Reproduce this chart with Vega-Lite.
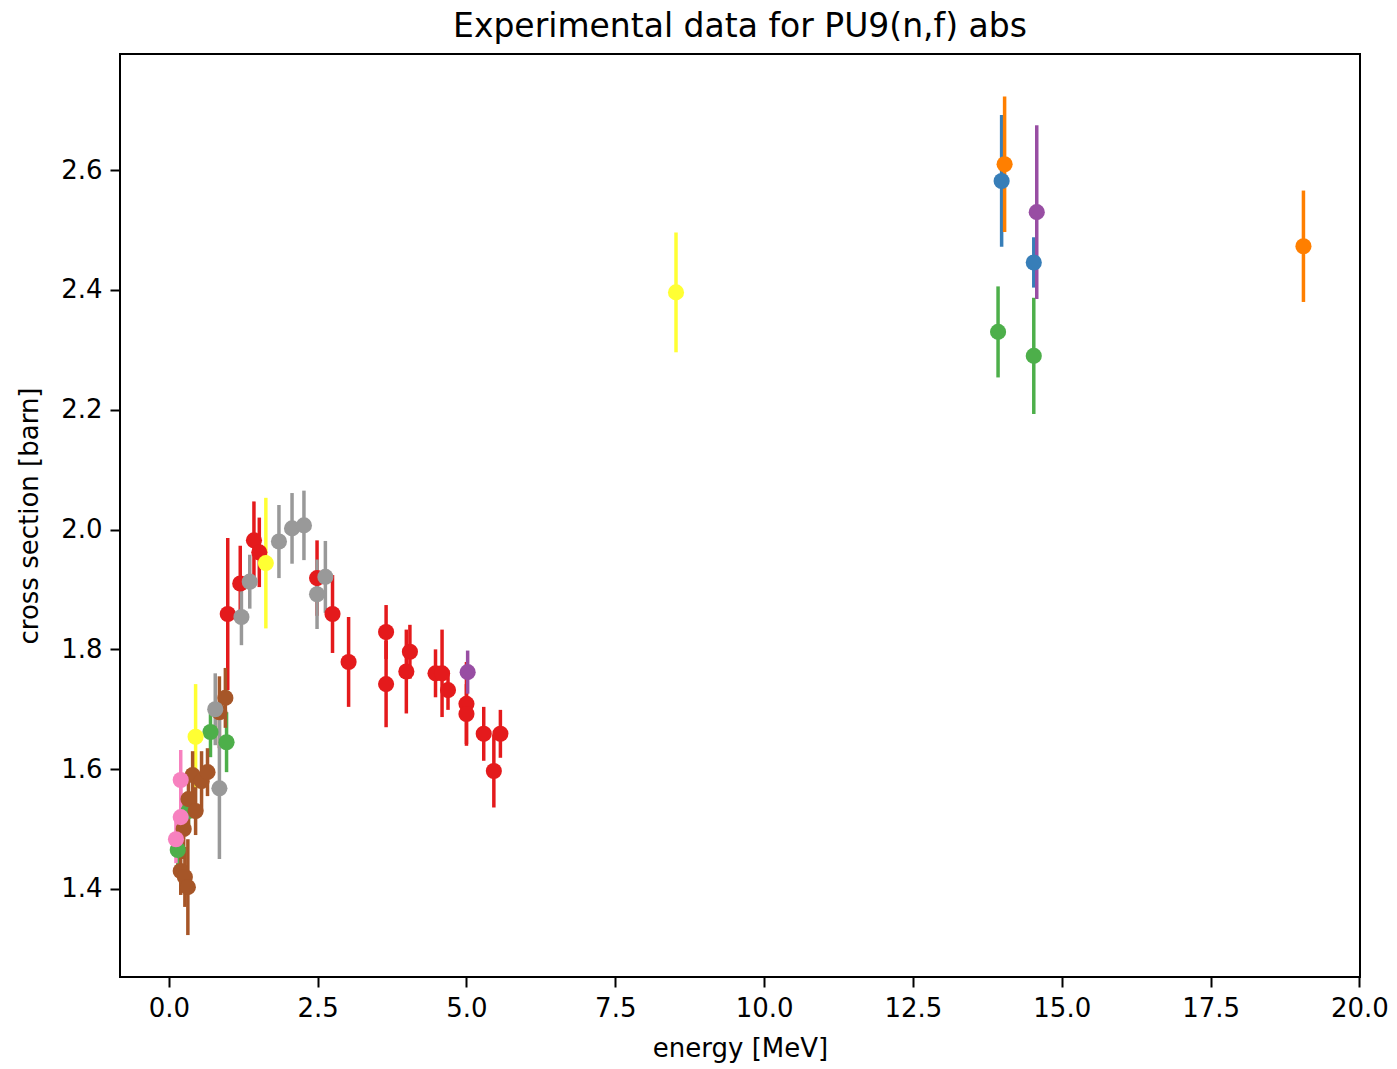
{
  "$schema": "https://vega.github.io/schema/vega-lite/v6.json",
  "width": 1240,
  "height": 923,
  "autosize": {"type": "none"},
  "padding": {"left": 120, "top": 54, "right": 37, "bottom": 92},
  "background": "white",
  "title": {"text": "Experimental data for PU9(n,f) abs", "font": "DejaVu Sans", "fontSize": 33, "fontWeight": "normal", "color": "black", "offset": 10},
  "config": {
    "view": {"stroke": "black", "strokeWidth": 2},
    "axis": {"domain": false, "grid": false, "tickColor": "black", "tickSize": 10, "tickWidth": 2, "labelFont": "DejaVu Sans", "labelFontSize": 26, "labelColor": "black", "titleFont": "DejaVu Sans", "titleFontSize": 26, "titleFontWeight": "normal", "titleColor": "black", "labelPadding": 8, "labelFlush": false}
  },
  "data": {"values": [
    {"set": "red", "energy": 0.99, "xs": 1.859, "err": 0.127},
    {"set": "red", "energy": 1.20, "xs": 1.910, "err": 0.063},
    {"set": "red", "energy": 1.43, "xs": 1.982, "err": 0.065},
    {"set": "red", "energy": 1.52, "xs": 1.962, "err": 0.058},
    {"set": "red", "energy": 2.49, "xs": 1.919, "err": 0.063},
    {"set": "red", "energy": 2.75, "xs": 1.859, "err": 0.065},
    {"set": "red", "energy": 3.02, "xs": 1.779, "err": 0.075},
    {"set": "red", "energy": 3.65, "xs": 1.829, "err": 0.045},
    {"set": "red", "energy": 3.65, "xs": 1.742, "err": 0.072},
    {"set": "red", "energy": 4.05, "xs": 1.796, "err": 0.045},
    {"set": "red", "energy": 3.99, "xs": 1.763, "err": 0.07},
    {"set": "red", "energy": 4.48, "xs": 1.760, "err": 0.04},
    {"set": "red", "energy": 4.59, "xs": 1.760, "err": 0.073},
    {"set": "red", "energy": 4.69, "xs": 1.732, "err": 0.033},
    {"set": "red", "energy": 5.00, "xs": 1.709, "err": 0.07},
    {"set": "red", "energy": 5.00, "xs": 1.692, "err": 0.05},
    {"set": "red", "energy": 5.29, "xs": 1.659, "err": 0.045},
    {"set": "red", "energy": 5.57, "xs": 1.659, "err": 0.04},
    {"set": "red", "energy": 5.46, "xs": 1.597, "err": 0.061},
    {"set": "blue", "energy": 13.99, "xs": 2.582, "err": 0.11},
    {"set": "blue", "energy": 14.53, "xs": 2.446, "err": 0.042},
    {"set": "green", "energy": 13.93, "xs": 2.330, "err": 0.076},
    {"set": "green", "energy": 14.53, "xs": 2.290, "err": 0.097},
    {"set": "green", "energy": 0.70, "xs": 1.662, "err": 0.042},
    {"set": "green", "energy": 0.97, "xs": 1.645, "err": 0.05},
    {"set": "green", "energy": 0.15, "xs": 1.465, "err": 0.03},
    {"set": "green", "energy": 0.33, "xs": 1.530, "err": 0.03},
    {"set": "purple", "energy": 14.58, "xs": 2.530, "err": 0.145},
    {"set": "purple", "energy": 5.02, "xs": 1.762, "err": 0.036},
    {"set": "orange", "energy": 14.04, "xs": 2.610, "err": 0.113},
    {"set": "orange", "energy": 19.06, "xs": 2.473, "err": 0.093},
    {"set": "yellow", "energy": 8.52, "xs": 2.396, "err": 0.10},
    {"set": "yellow", "energy": 1.63, "xs": 1.944, "err": 0.109},
    {"set": "yellow", "energy": 0.45, "xs": 1.654, "err": 0.088},
    {"set": "brown", "energy": 0.95, "xs": 1.719, "err": 0.05},
    {"set": "brown", "energy": 0.85, "xs": 1.695, "err": 0.06},
    {"set": "brown", "energy": 0.40, "xs": 1.590, "err": 0.04},
    {"set": "brown", "energy": 0.55, "xs": 1.580, "err": 0.05},
    {"set": "brown", "energy": 0.65, "xs": 1.595, "err": 0.04},
    {"set": "brown", "energy": 0.33, "xs": 1.550, "err": 0.05},
    {"set": "brown", "energy": 0.45, "xs": 1.530, "err": 0.04},
    {"set": "brown", "energy": 0.25, "xs": 1.500, "err": 0.05},
    {"set": "brown", "energy": 0.20, "xs": 1.430, "err": 0.04},
    {"set": "brown", "energy": 0.27, "xs": 1.420, "err": 0.05},
    {"set": "brown", "energy": 0.32, "xs": 1.403, "err": 0.08},
    {"set": "pink", "energy": 0.20, "xs": 1.582, "err": 0.05},
    {"set": "pink", "energy": 0.12, "xs": 1.483, "err": 0.04},
    {"set": "pink", "energy": 0.20, "xs": 1.520, "err": 0.05},
    {"set": "grey", "energy": 1.22, "xs": 1.854, "err": 0.047},
    {"set": "grey", "energy": 1.36, "xs": 1.913, "err": 0.045},
    {"set": "grey", "energy": 1.85, "xs": 1.980, "err": 0.061},
    {"set": "grey", "energy": 2.07, "xs": 2.002, "err": 0.059},
    {"set": "grey", "energy": 2.27, "xs": 2.007, "err": 0.058},
    {"set": "grey", "energy": 2.63, "xs": 1.921, "err": 0.06},
    {"set": "grey", "energy": 2.49, "xs": 1.892, "err": 0.058},
    {"set": "grey", "energy": 0.85, "xs": 1.568, "err": 0.118},
    {"set": "grey", "energy": 0.78, "xs": 1.700, "err": 0.06}
  ]},
  "encoding": {
    "x": {"field": "energy", "type": "quantitative", "scale": {"domain": [-0.82, 20.01], "nice": false, "zero": false}, "axis": {"values": [0, 2.5, 5, 7.5, 10, 12.5, 15, 17.5, 20], "format": ".1f", "title": "energy [MeV]", "titlePadding": 14}},
    "y": {"field": "xs", "type": "quantitative", "scale": {"domain": [1.253, 2.794], "nice": false, "zero": false}, "axis": {"values": [1.4, 1.6, 1.8, 2.0, 2.2, 2.4, 2.6], "format": ".1f", "title": "cross section [barn]", "titlePadding": 18}},
    "color": {"field": "set", "type": "nominal", "legend": null, "scale": {"domain": ["red", "blue", "green", "purple", "orange", "yellow", "brown", "pink", "grey"], "range": ["#e41a1c", "#377eb8", "#4daf4a", "#984ea3", "#ff7f00", "#ffff33", "#a65628", "#f781bf", "#999999"]}}
  },
  "layer": [
    {"mark": {"type": "errorbar", "thickness": 3.5}, "encoding": {"yError": {"field": "err"}}},
    {"mark": {"type": "circle", "size": 260, "opacity": 1}}
  ]
}
